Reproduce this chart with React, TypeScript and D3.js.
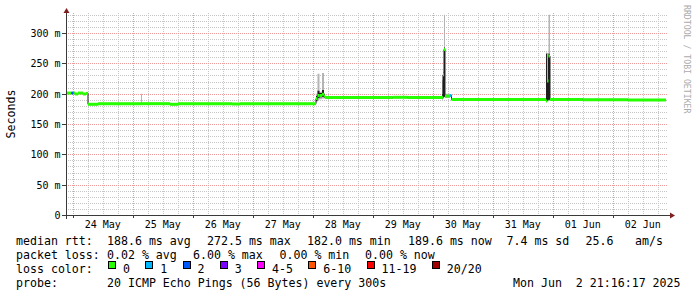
import React from "react";
import * as d3 from "d3";

const W = 697;
const H = 297;

const startTime = new Date("2025-05-23T21:16:17");
const endTime = new Date("2025-06-02T21:16:17");

// step samples (value holds until next sample)
const sampleTimes = [
  "2025-05-23T21:16", "2025-05-23T23:28", "2025-05-24T00:16", "2025-05-24T00:52",
  "2025-05-24T02:04", "2025-05-24T04:04", "2025-05-24T05:16", "2025-05-24T06:04",
  "2025-05-24T10:04", "2025-05-25T03:16", "2025-05-25T03:40", "2025-05-25T14:52",
  "2025-05-25T18:04", "2025-05-26T15:40", "2025-05-26T18:52", "2025-05-28T01:16",
  "2025-05-28T01:52", "2025-05-28T02:40", "2025-05-28T03:40", "2025-05-28T04:28",
  "2025-05-28T04:52", "2025-05-29T08:00", "2025-05-29T14:00", "2025-05-30T03:40",
  "2025-05-30T04:04", "2025-05-30T04:28", "2025-05-30T04:52", "2025-05-30T06:52",
  "2025-05-30T07:16", "2025-05-30T07:28", "2025-05-31T21:16", "2025-05-31T21:40",
  "2025-05-31T22:16", "2025-05-31T22:52", "2025-06-01T12:00", "2025-06-02T06:00",
];
const medianMs = [
  201, 201, 201, 199.5, 201, 199.5, 200.5, 182.5,
  183.5, 183.5, 183.5, 182.5, 183.5, 183, 183.5, 192,
  197, 197, 199, 196, 193.5, 194, 193.5, 194,
  231, 273, 196, 197, 197, 190.5, 188, 221,
  262, 190.5, 190, 189.6,
];
const lostPings = [
  0, 2, 0, 0, 0, 0, 0, 0,
  0, 0, 0, 0, 0, 0, 0, 0,
  0, 0, 0, 0, 0, 0, 0, 0,
  0, 0, 0, 1, 0, 0, 0, 0,
  0, 0, 0, 0,
];
const smokeMinMs = [
  199.5, 199.5, 199.5, 198, 199.5, 198, 199, 181,
  182, 182, 182, 181, 182, 181.5, 182, 186,
  189, 191, 192, 192, 192, 192.5, 192, 190,
  192, 194, 193, 195, 195, 189, 186, 187,
  188, 189, 188.5, 188,
];
const smokeMaxMs = [
  202.5, 202.5, 202.5, 201, 202.5, 201, 202, 184,
  185, 200, 185, 184, 185, 184.5, 185, 200,
  233, 203, 234, 201, 195, 195.5, 195, 222,
  236, 330, 200, 199, 199, 192, 268, 267,
  330, 192, 191.5, 191,
];
const coreLowMs = [
  200, 200, 200, 198.5, 200, 198.5, 199.5, 181.5,
  182.5, 182.5, 182.5, 181.5, 182.5, 182, 182.5, 188,
  193, 194, 195, 194, 192.5, 193, 192.5, 192,
  194, 195, 195, 196, 196, 189.5, 188, 189,
  190, 189.5, 189, 188.5,
];
const coreHighMs = [
  202, 202, 202, 200.5, 202, 200.5, 201.5, 183.5,
  184.5, 184.5, 184.5, 183.5, 184.5, 184, 184.5, 196,
  205, 201, 206, 199, 194.5, 195, 194.5, 199,
  232, 276, 198, 198, 198, 191.5, 266, 222,
  266, 191.5, 191, 190.5,
];

const yTickValues = [0, 50, 100, 150, 200, 250, 300];

const lossLabels = ["0", "1", "2", "3", "4-5", "6-10", "11-19", "20/20"];
const lossColors = ["#26ff00", "#00b8ff", "#0059ff", "#7e00ff", "#ff00ff", "#ff5500", "#ff0000", "#a10000"];
const lossUpper = [0, 1, 2, 3, 5, 10, 19, 20];

const statRtt = [
  { text: "median rtt:", x: 16 },
  { text: "188.6 ms avg", x: 107 },
  { text: "272.5 ms max", x: 207 },
  { text: "182.0 ms min", x: 307 },
  { text: "189.6 ms now", x: 408 },
  { text: "7.4 ms sd", x: 506.5 },
  { text: "25.6", x: 585.5 },
  { text: "am/s", x: 635 },
];
const statLoss = [
  { text: "packet loss:", x: 16 },
  { text: "0.02 % avg", x: 107 },
  { text: "6.00 % max", x: 193 },
  { text: "0.00 % min", x: 279.5 },
  { text: "0.00 % now", x: 365 },
];
const probeText = "20 ICMP Echo Pings (56 Bytes) every 300s";
const stampText = "Mon Jun  2 21:16:17 2025";

const MONO = "'DejaVu Sans Mono', monospace";

export default function App() {
  const x = d3.scaleTime().domain([startTime, endTime]).range([66, 666]);
  const y = d3.scaleLinear().domain([0, 333]).range([215, 13]);
  const snap = (v: number) => Math.round(v) + 0.5;

  const pts = sampleTimes.map((s, i) => ({
    t: new Date(s),
    med: medianMs[i],
    loss: lostPings[i],
    lo: smokeMinMs[i],
    hi: smokeMaxMs[i],
    cLo: coreLowMs[i],
    cHi: coreHighMs[i],
  }));
  const ext = [...pts, { ...pts[pts.length - 1], t: endTime }];

  const outerArea = d3.area<any>().x((d) => x(d.t)).y0((d) => y(d.lo)).y1((d) => y(d.hi)).curve(d3.curveStepAfter)(ext) || "";
  const coreArea = d3.area<any>().x((d) => x(d.t)).y0((d) => y(d.cLo)).y1((d) => y(d.cHi)).curve(d3.curveStepAfter)(ext) || "";
  const medLine = d3.line<any>().x((d) => x(d.t)).y((d) => y(d.med)).curve(d3.curveStepAfter)(ext) || "";

  const colorFor = (loss: number) => {
    const idx = lossUpper.findIndex((u) => loss <= u);
    return lossColors[idx < 0 ? lossColors.length - 1 : idx];
  };

  const minorH = d3.range(10, 333, 10).filter((v) => v % 50 !== 0);
  const majorH = d3.range(50, 333, 50);
  const dayStarts = d3.timeDay.range(startTime, endTime);
  const minorV = d3.timeHour.every(6)!.range(startTime, endTime).filter((d) => d.getHours() !== 0);
  const dayLabels = dayStarts
    .map((d) => d3.timeHour.offset(d, 12))
    .filter((d) => d > startTime && d < endTime);
  const fmt = d3.timeFormat("%d %b");

  // legend box layout
  const boxes: { x: number; label: string; color: string }[] = [];
  let bx = 108;
  lossLabels.forEach((l, i) => {
    boxes.push({ x: bx, label: l, color: lossColors[i] });
    bx = bx + 15 + l.length * 6.98 + 15.3;
  });

  const X0 = 66, X1 = 668, Y0 = 215, Y1 = 13;

  return (
    <svg width={W} height={H} style={{ position: "absolute", left: 0, top: 0, background: "#ffffff" }}>
      <rect x={0} y={0} width={W} height={H} fill="#ffffff" />
      {/* grid */}
      <g shapeRendering="crispEdges">
        {minorH.map((v) => (
          <line key={"mh" + v} x1={X0} x2={X1} y1={snap(y(v))} y2={snap(y(v))} stroke="#c6c6c6" strokeDasharray="1,1" />
        ))}
        {minorV.map((d, i) => (
          <line key={"mv" + i} x1={snap(x(d))} x2={snap(x(d))} y1={Y1} y2={Y0} stroke="#c6c6c6" strokeDasharray="1,1" />
        ))}
        {majorH.map((v) => (
          <line key={"Mh" + v} x1={X0} x2={X1} y1={snap(y(v))} y2={snap(y(v))} stroke="#ec9a9a" strokeDasharray="1,1" />
        ))}
        {dayStarts.map((d, i) => (
          <line key={"Mv" + i} x1={snap(x(d))} x2={snap(x(d))} y1={Y1} y2={Y0} stroke="#ec9a9a" strokeDasharray="1,1" />
        ))}
      </g>
      {/* smoke */}
      <path d={outerArea} fill="#b4b4b4" />
      <path d={coreArea} fill="#1e1e1e" />
      {/* median */}
      <path d={medLine} fill="none" stroke="#202020" strokeWidth={1} />
      {pts.map((p, i) => {
        const t2 = i + 1 < pts.length ? pts[i + 1].t : endTime;
        return (
          <line
            key={"m" + i}
            x1={x(p.t)}
            x2={x(t2)}
            y1={y(p.med)}
            y2={y(p.med)}
            stroke={colorFor(p.loss)}
            strokeWidth={3}
          />
        );
      })}
      {/* axes */}
      <g shapeRendering="crispEdges" stroke="#3a3a3a">
        <line x1={62} x2={670} y1={Y0 + 0.5} y2={Y0 + 0.5} />
        <line x1={X0 + 0.5} x2={X0 + 0.5} y1={219} y2={12} />
        {yTickValues.map((v) => (
          <line key={"yt" + v} x1={62} x2={X0} y1={snap(y(v))} y2={snap(y(v))} />
        ))}
        {dayStarts.map((d, i) => (
          <line key={"xt" + i} x1={snap(x(d))} x2={snap(x(d))} y1={Y0} y2={Y0 + 3} />
        ))}
      </g>
      <path d={`M${X0 + 0.5},8 L${X0 + 3.5},13 L${X0 - 2.5},13 Z`} fill="#7f1f1f" />
      <path d={`M675,${Y0 + 0.5} L670,${Y0 + 3.5} L670,${Y0 - 2.5} Z`} fill="#7f1f1f" />
      {/* y labels */}
      <g fontFamily={MONO} fontSize={10} fill="#000">
        {yTickValues.map((v) => (
          <text key={"yl" + v} x={60.5} y={snap(y(v)) + 3.3} textAnchor="end">
            {v === 0 ? "0" : `${v} m`}
          </text>
        ))}
        {dayLabels.map((d, i) => (
          <text key={"xl" + i} x={x(d)} y={228} textAnchor="middle">
            {fmt(d)}
          </text>
        ))}
      </g>
      <text x={15} y={114} transform="rotate(-90 15 114)" textAnchor="middle" fontFamily={MONO} fontSize={11.6} fill="#000">
        Seconds
      </text>
      <text x={684} y={5} transform="rotate(90 684 5)" fontFamily={MONO} fontSize={8.2} fill="#ababab">
        RRDTOOL / TOBI OETIKER
      </text>
      {/* legend */}
      <g fontFamily={MONO} fontSize={11.6} fill="#000" style={{ whiteSpace: "pre" }}>
        {statRtt.map((s, i) => (
          <text key={"r" + i} x={s.x} y={245}>{s.text}</text>
        ))}
        {statLoss.map((s, i) => (
          <text key={"l" + i} x={s.x} y={259}>{s.text}</text>
        ))}
        <text x={16} y={273}>loss color:</text>
        {boxes.map((b, i) => (
          <g key={"b" + i}>
            <rect x={b.x + 0.5} y={261.5} width={7} height={7} fill={b.color} stroke="#000" strokeWidth={1} shapeRendering="crispEdges" />
            <text x={b.x + 15} y={273}>{b.label}</text>
          </g>
        ))}
        <text x={16} y={287}>probe:</text>
        <text x={107} y={287}>{probeText}</text>
        <text x={513} y={287} xmlSpace="preserve">{stampText}</text>
      </g>
    </svg>
  );
}
